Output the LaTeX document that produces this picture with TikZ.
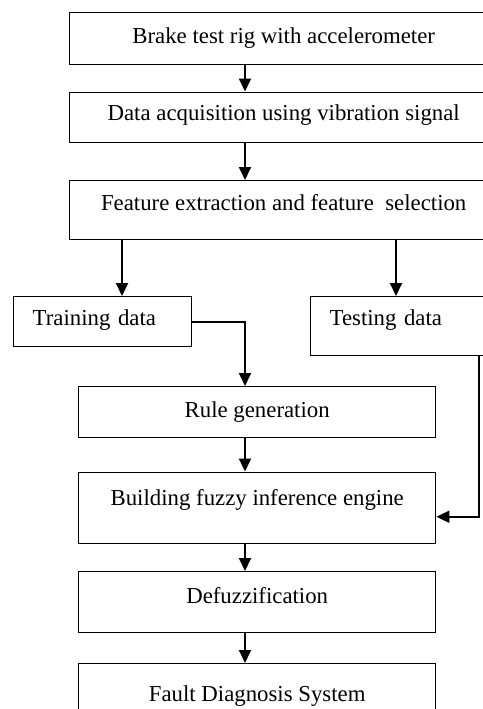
\documentclass[tikz,border=0pt]{standalone}
\usepackage{fontspec}
\setmainfont{Liberation Serif}
\usetikzlibrary{arrows.meta}

\tikzset{
    stage/.style={draw, line width=0.7pt, rectangle, anchor=north west, inner sep=0pt,
        font=\fontsize{11.4pt}{13pt}\selectfont},
    datastage/.style={stage, inner xsep=9.5pt, align=left},
    arr/.style={line width=0.9pt, -{Triangle[length=6.5pt,width=6pt]}}
}

\begin{document}
\begin{tikzpicture}[x=0.5pt, y=-0.5pt]
    \clip (0,0) rectangle (483,709);
    % main chain
    \node[stage, minimum width=214pt, text height=15.35pt, text depth=10.65pt] (rig) at (69,12) {Brake test rig with accelerometer};
    \node[stage, minimum width=214pt, text height=14.25pt, text depth=11pt] (acq) at (69,91.5) {Data acquisition using vibration signal};
    \node[stage, minimum width=214pt, text height=14.65pt, text depth=14.85pt] (feat) at (69,180) {Feature extraction and feature\ \ selection};
    \node[datastage, text width=70pt, text height=14.5pt, text depth=10.5pt] (train) at (13,296) {Training data};
    \node[datastage, text width=76pt, text height=14.5pt, text depth=15pt] (test) at (310,296) {Testing data};
    \node[stage, minimum width=178.5pt, text height=15.35pt, text depth=10.15pt] (rule) at (78,386) {Rule generation};
    \node[stage, minimum width=178.5pt, text height=16.4pt, text depth=19.35pt] (fie) at (78,471.5) {Building fuzzy inference engine};
    \node[stage, minimum width=178.5pt, text height=16pt, text depth=14.5pt] (defuzz) at (78,571) {Defuzzification};
    \node[stage, minimum width=178.5pt, text height=19pt, text depth=14.5pt] (fault) at (78,663) {Fault Diagnosis System};

    % connectors
    \coordinate (axis) at (245,0);
    \coordinate (trainx) at (122,0);
    \coordinate (testx) at (396,0);
    \coordinate (backx) at (479,0);
    \draw[arr] (rig.south -| axis) -- (acq.north -| axis);
    \draw[arr] (acq.south -| axis) -- (feat.north -| axis);
    \draw[arr] (feat.south -| trainx) -- (train.north -| trainx);
    \draw[arr] (feat.south -| testx) -- (test.north -| testx);
    \draw[arr] (train.east) -| (rule.north -| axis);
    \draw[arr] (test.south -| backx) |- ([yshift=-4.4pt]fie.east);
    \draw[arr] (rule.south -| axis) -- (fie.north -| axis);
    \draw[arr] (fie.south -| axis) -- (defuzz.north -| axis);
    \draw[arr] (defuzz.south -| axis) -- (fault.north -| axis);
\end{tikzpicture}
\end{document}
